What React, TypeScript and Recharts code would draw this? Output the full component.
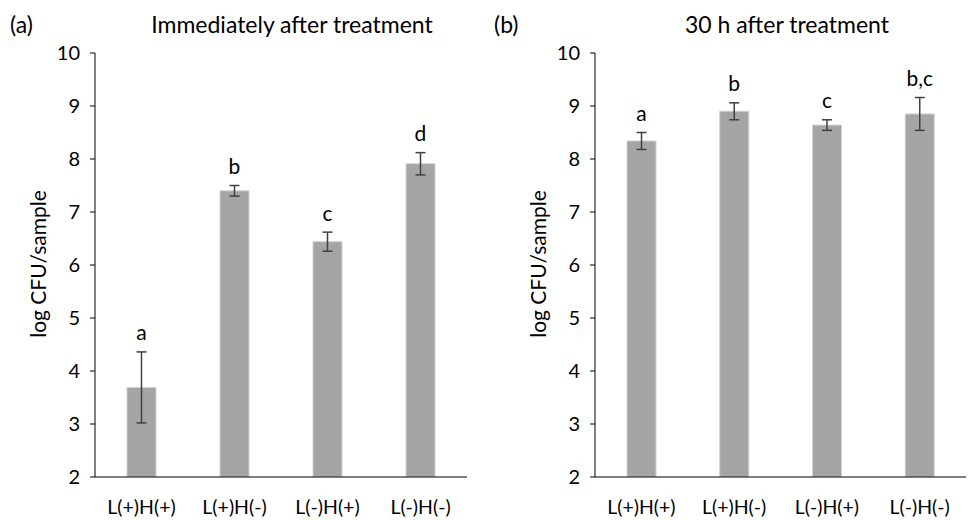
import { Bar, BarChart, ErrorBar, LabelList, XAxis, YAxis } from 'recharts';

const groups = ['L(+)H(+)', 'L(+)H(-)', 'L(-)H(+)', 'L(-)H(-)'];
const yTicks = [2, 3, 4, 5, 6, 7, 8, 9, 10];

// (a) immediately after treatment
const meanA = [3.69, 7.4, 6.44, 7.91];
const errA = [0.67, 0.1, 0.18, 0.21];
const lettersA = ['a', 'b', 'c', 'd'];

// (b) 30 h after treatment
const meanB = [8.34, 8.9, 8.64, 8.85];
const errB = [0.16, 0.16, 0.1, 0.31];
const lettersB = ['a', 'b', 'c', 'b,c'];

const FONT = 'Lato, "Open Sans", sans-serif';

const makeRows = (mean: number[], err: number[], letters: string[]) =>
  groups.map((g, i) => ({ group: g, mean: mean[i], err: err[i], letter: letters[i] }));

function LetterLabel(props: any) {
  const { x, y, width, height, value, index, rows } = props;
  const row = rows[index];
  // pixels per unit from the bar itself (baseline is 2)
  const ppu = height / (row.mean - 2);
  const top = y - row.err * ppu;
  return (
    <text
      x={x + width / 2}
      y={top - 20}
      textAnchor="middle"
      dominantBaseline="central"
      fontSize={21}
      fontFamily={FONT}
      fill="#000"
    >
      {value}
    </text>
  );
}

function Panel({ rows, axisWidth, right }: { rows: any[]; axisWidth: number; right: number }) {
  return (
    <BarChart
      width={484}
      height={520}
      data={rows}
      margin={{ top: 53, right, bottom: 0, left: 0 }}
      barCategoryGap={0}
    >
      <XAxis
        dataKey="group"
        height={43}
        tickLine={false}
        axisLine={{ stroke: '#000' }}
        tickMargin={17}
        tick={{ fontSize: 19.5, fill: '#000', fontFamily: FONT }}
        interval={0}
      />
      <YAxis
        width={axisWidth}
        domain={[2, 10]}
        ticks={yTicks}
        allowDataOverflow
        axisLine={{ stroke: '#000' }}
        tickLine={{ stroke: '#000' }}
        tickSize={5}
        tickMargin={10}
        tick={{ fontSize: 20, fill: '#000', fontFamily: FONT }}
      />
      <Bar dataKey="mean" fill="#a5a5a5" stroke="#d0d0d0" strokeWidth={1} barSize={29} isAnimationActive={false}>
        <ErrorBar dataKey="err" width={5} stroke="#404040" strokeWidth={1.5} />
        <LabelList dataKey="letter" content={(p: any) => <LetterLabel {...p} rows={rows} />} />
      </Bar>
    </BarChart>
  );
}

const textStyle: React.CSSProperties = {
  position: 'absolute',
  fontFamily: FONT,
  color: '#000',
  whiteSpace: 'nowrap',
  lineHeight: 1,
};

export default function App() {
  const rowsA = makeRows(meanA, errA, lettersA);
  const rowsB = makeRows(meanB, errB, lettersB);
  return (
    <div style={{ position: 'absolute', left: 0, top: 0, width: 968, height: 520, background: '#fff' }}>
      <div style={{ position: 'absolute', left: 0, top: 0 }}>
        <Panel rows={rowsA} axisWidth={95} right={17} />
      </div>
      <div style={{ position: 'absolute', left: 484, top: 0 }}>
        <Panel rows={rowsB} axisWidth={111} right={2} />
      </div>

      <div style={{ ...textStyle, left: 10, top: 13, fontSize: 23 }}>(a)</div>
      <div style={{ ...textStyle, left: 292, top: 13, fontSize: 23, transform: 'translateX(-50%)' }}>
        Immediately after treatment
      </div>
      <div style={{ ...textStyle, left: 494, top: 13, fontSize: 23 }}>(b)</div>
      <div style={{ ...textStyle, left: 787, top: 13, fontSize: 23, transform: 'translateX(-50%)' }}>
        30 h after treatment
      </div>

      <div
        style={{
          ...textStyle,
          left: 37,
          top: 264,
          fontSize: 21,
          transform: 'translate(-50%, -50%) rotate(-90deg)',
        }}
      >
        log CFU/sample
      </div>
      <div
        style={{
          ...textStyle,
          left: 537,
          top: 264,
          fontSize: 21,
          transform: 'translate(-50%, -50%) rotate(-90deg)',
        }}
      >
        log CFU/sample
      </div>
    </div>
  );
}
